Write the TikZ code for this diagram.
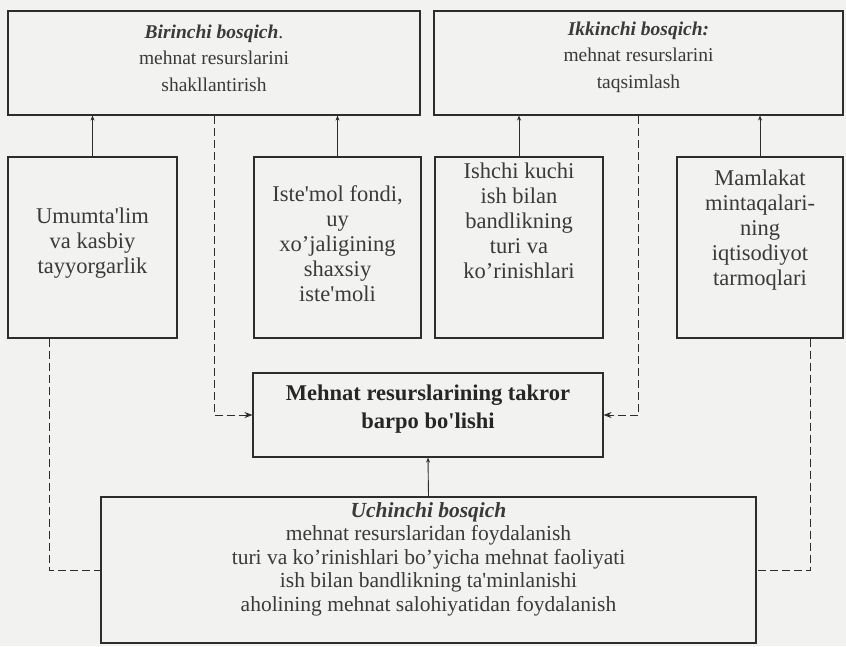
\documentclass[tikz,border=0pt]{standalone}
\usepackage{fontspec}
\setmainfont{Liberation Serif}[Ligatures=TeXOff]
\usetikzlibrary{arrows.meta}

\definecolor{bgc}{RGB}{242,242,241}
\definecolor{linec}{RGB}{45,45,45}
\definecolor{textc}{RGB}{58,58,58}

\begin{document}
\begin{tikzpicture}[x=1pt,y=-1pt,
  box/.style={draw=linec, line width=1.1pt, inner sep=0pt},
  txt/.style={text=textc, align=center, inner sep=0pt},
  headtxt/.style={txt, font=\fontsize{19.5}{26.5}\selectfont},
  smalltxt/.style={txt, font=\fontsize{22.5}{25}\selectfont},
  centtxt/.style={txt, text=black!85, font=\fontsize{22.5}{28}\selectfont\bfseries},
  bottxt/.style={txt, font=\fontsize{21.5}{23.5}\selectfont},
  feed/.style={draw=linec, line width=0.9pt, -{Stealth[length=5pt,width=4pt]}},
  back/.style={draw=linec, line width=0.9pt, dash pattern=on 8pt off 4pt},
  backarrow/.style={back, -{Stealth[length=8pt,width=6pt]}},
]
% page and background
\fill[bgc] (0,0) rectangle (846,646);
\useasboundingbox (0,0) rectangle (846,646);

% stage boxes
\node[box, minimum width=412pt, minimum height=104pt] (s1) at (214,63) {};
\node[box, minimum width=409pt, minimum height=104pt] (s2) at (638.5,63) {};
\node[box, minimum width=350pt, minimum height=84pt] (m) at (428,415) {};
\node[box, minimum width=655pt, minimum height=146pt] (s3) at (428.5,570) {};

% factor boxes
\node[box, minimum width=169pt, minimum height=181pt] (f1) at (92.5,247.5) {};
\node[box, minimum width=167pt, minimum height=181pt] (f2) at (337.5,247.5) {};
\node[box, minimum width=168pt, minimum height=181pt] (f3) at (519,247.5) {};
\node[box, minimum width=166pt, minimum height=181pt] (f4) at (760,247.5) {};

% texts
\node[headtxt] (s1t) at (214,58) {\textbf{\textit{Birinchi bosqich}}.\\mehnat resurslarini\\shakllantirish};
\node[headtxt] (s2t) at (638.5,57) {\textbf{\textit{Ikkinchi bosqich:}}\\mehnat resurslarini\\taqsimlash};
\node[smalltxt] (f1t) at (92.5,243) {Umumta'lim\\va kasbiy\\tayyorgarlik};
\node[smalltxt] (f2t) at (337.5,244) {Iste'mol fondi,\\uy\\xo’jaligining\\shaxsiy\\iste'moli};
\node[smalltxt] (f3t) at (519,221) {Ishchi kuchi\\ish bilan\\bandlikning\\turi va\\ko’rinishlari};
\node[smalltxt] (f4t) at (760,230) {Mamlakat\\mintaqalari-\\ning\\iqtisodiyot\\tarmoqlari};
\node[centtxt] (mt) at (428,409) {Mehnat resurslarining takror\\barpo bo'lishi};
\node[bottxt] (s3t) at (428.5,559) {\textbf{\textit{Uchinchi bosqich}}\\mehnat resurslaridan foydalanish\\turi va ko’rinishlari bo’yicha mehnat faoliyati\\ish bilan bandlikning ta'minlanishi\\aholining mehnat salohiyatidan foydalanish};

% factors feeding the first two stages
\draw[feed] (f1.north) -- (f1.north |- s1.south);
\draw[feed] (f2.north) -- (f2.north |- s1.south);
\draw[feed] (f3.north) -- (f3.north |- s2.south);
\draw[feed] (f4.north) -- (f4.north |- s2.south);

% third stage feeding the reproduction box
\draw[feed] (s3.north) -- (m.south);

% dashed links from the first two stages
\draw[backarrow] (s1.south) |- (m.west);
\draw[backarrow] (s2.south) |- (m.east);

% dashed links to the third stage
\draw[back] ([xshift=42pt]f1.south west) |- (s3.west);
\draw[back] ([xshift=-33pt]f4.south east) |- (s3.east);
\end{tikzpicture}
\end{document}
